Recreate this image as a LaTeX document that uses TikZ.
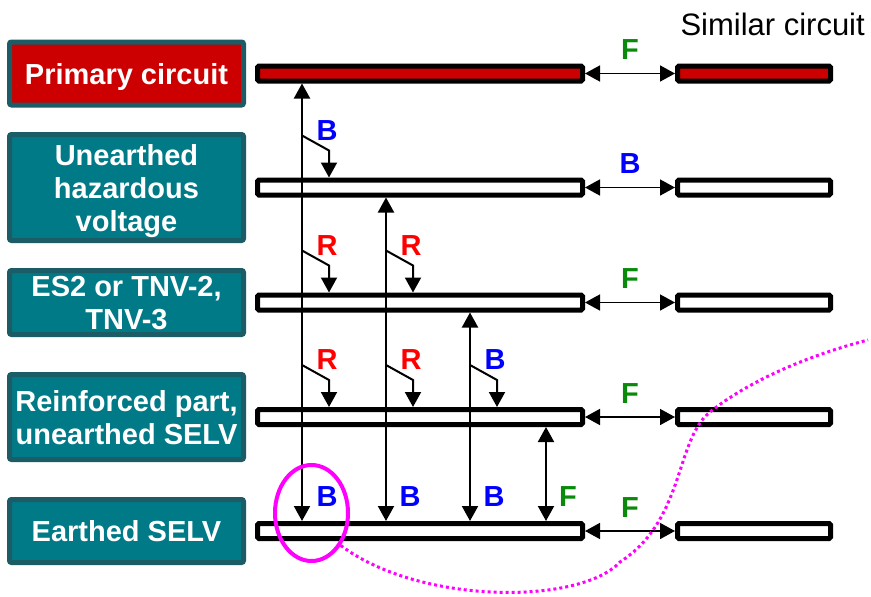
\documentclass[tikz,border=0pt]{standalone}
\usepackage{fontspec}
\setmainfont{Liberation Sans}
\usetikzlibrary{positioning,arrows.meta,calc,shapes.geometric}

\definecolor{boxteal}{HTML}{007A87}
\definecolor{boxedge}{HTML}{1B5C66}
\definecolor{primred}{HTML}{CC0000}
\definecolor{lblgreen}{HTML}{0A8A0A}
\definecolor{hlmagenta}{HTML}{FF00FF}

\begin{document}
\begin{tikzpicture}[
  x=1pt, y=-1pt,
  lbox/.style={draw=boxedge, line width=5pt, fill=boxteal, rounded corners=2pt, text=white, font=\bfseries\fontsize{29}{33}\selectfont, align=center, inner sep=0pt, text depth=0pt, minimum width=234pt},
  bar/.style={draw=black, line width=5pt, fill=white, rounded corners=1.5pt, inner sep=0pt, minimum height=15pt, minimum width=325pt},
  simbar/.style={bar, minimum width=153pt},
  arr/.style={-{Triangle[length=15pt,width=16pt]}, line width=2pt, draw=black},
  dbl/.style={{Triangle[length=15pt,width=16pt]}-{Triangle[length=15pt,width=16pt]}, line width=2pt, draw=black},
  hdbl/.style={dbl, line width=1.6pt},
  lblB/.style={text=blue, font=\bfseries\fontsize{29}{29}\selectfont, inner sep=0pt},
  lblR/.style={lblB, text=red},
  lblF/.style={lblB, text=lblgreen},
  simtext/.style={font=\fontsize{31}{31}\selectfont, inner sep=0pt},
  hilite/.style={ellipse, draw=hlmagenta, line width=4pt, minimum width=73pt, minimum height=96pt, inner sep=0pt},
  dotline/.style={draw=hlmagenta, line width=3pt, dash pattern=on 3pt off 3pt}
]
\useasboundingbox (0,0) rectangle (871,597);

% ========== LEFT: circuit classes ==========
\node[lbox, fill=primred, minimum height=63pt] (primary) at (126.5,73.5) {Primary circuit};
\node[lbox, minimum height=106pt] (unearthed) at (126.5,187.5) {Unearthed\\hazardous\\voltage};
\node[lbox, minimum height=64pt] (es2) at (126.5,302.5) {ES2 or TNV-2,\\TNV-3};
\node[lbox, minimum height=85pt] (reinf) at (126.5,417) {Reinforced part,\\unearthed SELV};
\node[lbox, minimum height=63pt] (earthed) at (126.5,531) {Earthed SELV};

% ========== CENTER: circuit bars ==========
\node[bar, fill=primred, right=9pt of primary] (b1) {};
\node[bar, right=9pt of unearthed] (b2) {};
\node[bar, right=9pt of es2] (b3) {};
\node[bar, right=9pt of reinf] (b4) {};
\node[bar, right=9pt of earthed] (b5) {};

% ========== RIGHT: similar circuits ==========
\node[simbar, fill=primred, right=90pt of b1] (r1) {};
\node[simbar, right=90pt of b2] (r2) {};
\node[simbar, right=90pt of b3] (r3) {};
\node[simbar, right=90pt of b4] (r4) {};
\node[simbar, right=90pt of b5] (r5) {};

\node[simtext, anchor=base east] (sim) at ($(r1.north east)+(32,-28)$) {Similar circuit};

% ===== Bar -> similar circuit (horizontal) =====
\draw[hdbl] (b1.east) -- node[lblF, above=13pt] {F} (r1.west);
\draw[hdbl] (b2.east) -- node[lblB, above=13pt] {B} (r2.west);
\draw[hdbl] (b3.east) -- node[lblF, above=13pt] {F} (r3.west);
\draw[hdbl] (b4.east) -- node[lblF, above=13pt] {F} (r4.west);
\draw[hdbl] (b5.east) -- node[lblF, above=13pt] {F} (r5.west);

% ===== Vertical lines down to earthed SELV =====
\coordinate (v1) at (302,0);
\coordinate (v2) at (386,0);
\coordinate (v3) at (470,0);
\coordinate (v4) at (546,0);

\draw[dbl] (b1.south -| v1) -- (b5.north -| v1);
\draw[dbl] (b2.south -| v2) -- (b5.north -| v2);
\draw[dbl] (b3.south -| v3) -- (b5.north -| v3);
\draw[dbl] (b4.south -| v4) -- (b5.north -| v4);

% ===== Branches onto the bars in between =====
\draw[arr] ($(b2.north -| v1)+(0,-42)$) coordinate (s12) -- ++(27,15) -- ++(0,27);
\node[lblB] at ($(s12)+(25,-5)$) {B};

\draw[arr] ($(b3.north -| v1)+(0,-42)$) coordinate (s13) -- ++(27,15) -- ++(0,27);
\node[lblR] at ($(s13)+(25,-5)$) {R};
\draw[arr] ($(b3.north -| v2)+(0,-42)$) coordinate (s23) -- ++(27,15) -- ++(0,27);
\node[lblR] at ($(s23)+(25,-5)$) {R};

\draw[arr] ($(b4.north -| v1)+(0,-42)$) coordinate (s14) -- ++(27,15) -- ++(0,27);
\node[lblR] at ($(s14)+(25,-5)$) {R};
\draw[arr] ($(b4.north -| v2)+(0,-42)$) coordinate (s24) -- ++(27,15) -- ++(0,27);
\node[lblR] at ($(s24)+(25,-5)$) {R};
\draw[arr] ($(b4.north -| v3)+(0,-42)$) coordinate (s34) -- ++(27,15) -- ++(0,27);
\node[lblB] at ($(s34)+(25,-5)$) {B};

% ===== Labels above earthed SELV =====
\node[lblB] at ($(b5.north -| v1)+(25,-24)$) {B};
\node[lblB] at ($(b5.north -| v2)+(24,-24)$) {B};
\node[lblB] at ($(b5.north -| v3)+(24,-24)$) {B};
\node[lblF] at ($(b5.north -| v4)+(22,-24)$) {F};

% ===== Highlight =====
\node[hilite] (hl) at (311.5,513) {};
\coordinate (tail) at (868,340);
\draw[dotline] (hl.-48) .. controls (420,605) and (580,605) .. (620,562)
  .. controls (685,520) and (675,440) .. (710,412)
  .. controls (750,380) and (810,355) .. (tail);

\end{tikzpicture}
\end{document}
